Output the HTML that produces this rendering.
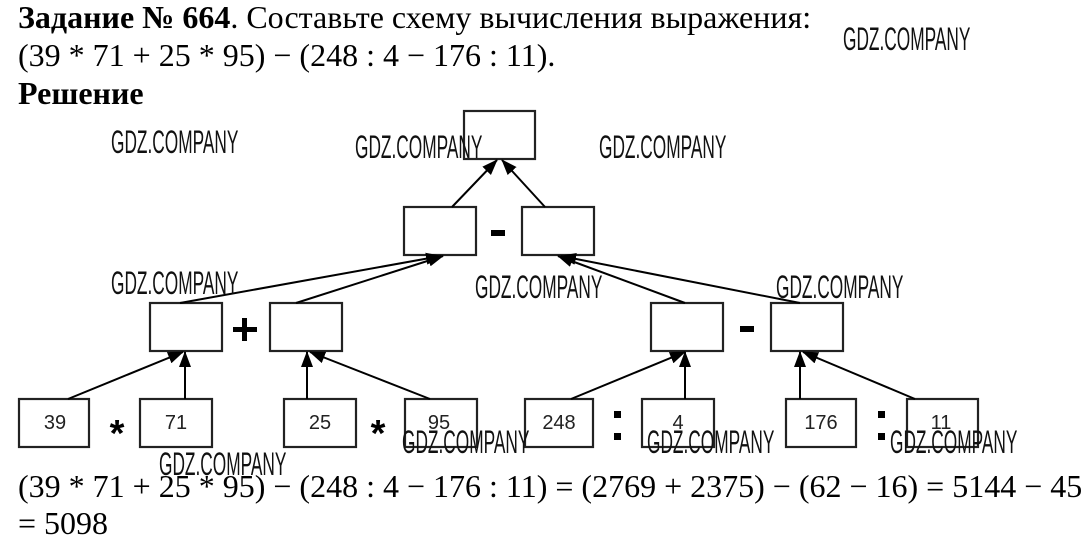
<!DOCTYPE html>
<html><head><meta charset="utf-8"><style>
body{margin:0;width:1090px;height:548px;background:#fff;position:relative;overflow:hidden;font-family:"Liberation Serif",serif;color:#000}
.t{position:absolute;left:18px;font-size:32px;white-space:nowrap;line-height:1}
.w{position:absolute;font-family:"Liberation Sans Narrow","Liberation Sans",sans-serif;font-size:32px;transform-origin:0 0;transform:scaleX(0.54);white-space:nowrap;line-height:1;color:#111}
</style></head><body>
<div class="t" style="top:1px"><b>Задание № 664</b>. Составьте схему вычисления выражения:</div>
<div class="t" style="top:39px">(39 * 71 + 25 * 95) − (248 : 4 − 176 : 11).</div>
<div class="t" style="top:77px"><b>Решение</b></div>
<svg style="position:absolute;left:0;top:0" width="1090" height="548">
<defs><marker id="a" markerWidth="16" markerHeight="12" refX="15" refY="6" orient="auto" markerUnits="userSpaceOnUse"><path d="M0,0 L16,6 L0,12z" fill="#000"/></marker></defs>
<g fill="none" stroke="#222" stroke-width="2.2">
<rect x="464" y="111" width="71" height="48"/>
<rect x="404" y="207" width="72" height="48"/><rect x="522" y="207" width="72" height="48"/>
<rect x="150" y="303" width="72" height="48"/><rect x="270" y="303" width="72" height="48"/>
<rect x="651" y="303" width="72" height="48"/><rect x="771" y="303" width="72" height="48"/>
<rect x="19" y="399" width="70" height="48"/><rect x="140" y="399" width="72" height="48"/>
<rect x="284" y="399" width="72" height="48"/><rect x="405" y="399" width="72" height="48"/>
<rect x="525" y="399" width="68" height="48"/><rect x="642" y="399" width="72" height="48"/>
<rect x="786" y="399" width="70" height="48"/><rect x="907" y="399" width="71" height="48"/>
</g>
<g stroke="#000" stroke-width="2" marker-end="url(#a)">
<line x1="452" y1="207" x2="497" y2="160"/><line x1="545" y1="207" x2="502" y2="160"/>
<line x1="180" y1="303" x2="441" y2="256"/><line x1="296" y1="303" x2="443" y2="256"/>
<line x1="685" y1="303" x2="558" y2="256"/><line x1="800" y1="303" x2="561" y2="256"/>
<line x1="68" y1="399" x2="183" y2="352"/><line x1="185" y1="399" x2="185" y2="352"/>
<line x1="307" y1="399" x2="307" y2="352"/><line x1="430" y1="399" x2="310" y2="352"/>
<line x1="571" y1="399" x2="685" y2="352"/><line x1="685" y1="399" x2="685" y2="352"/>
<line x1="800" y1="399" x2="800" y2="352"/><line x1="915" y1="399" x2="803" y2="352"/>
</g>
<g font-family="Liberation Sans,sans-serif" font-size="20" fill="#222" text-anchor="middle">
<text x="55" y="429">39</text><text x="176" y="429">71</text><text x="320" y="429">25</text><text x="439" y="429">95</text>
<text x="559" y="429">248</text><text x="678" y="429">4</text><text x="821" y="429">176</text><text x="941" y="429">11</text>
</g>
<g fill="#000">
<rect x="491" y="230" width="14" height="6"/>
<rect x="740" y="326" width="14" height="6"/>
<rect x="233" y="327" width="24" height="5"/><rect x="242" y="318" width="5" height="23"/>
<rect x="614" y="411" width="7" height="7"/><rect x="614" y="433" width="7" height="7"/>
<rect x="878" y="411" width="7" height="7"/><rect x="878" y="433" width="7" height="7"/>
</g>
<g font-family="Liberation Sans,sans-serif" font-size="38" font-weight="bold" text-anchor="middle">
<text x="117" y="446">*</text><text x="378" y="446">*</text>
</g>
</svg>
<div class="w" style="left:843px;top:23px">GDZ.COMPANY</div>
<div class="w" style="left:111px;top:126px">GDZ.COMPANY</div>
<div class="w" style="left:355px;top:131px">GDZ.COMPANY</div>
<div class="w" style="left:599px;top:131px">GDZ.COMPANY</div>
<div class="w" style="left:111px;top:267px">GDZ.COMPANY</div>
<div class="w" style="left:475px;top:271px">GDZ.COMPANY</div>
<div class="w" style="left:776px;top:271px">GDZ.COMPANY</div>
<div class="w" style="left:402px;top:426px">GDZ.COMPANY</div>
<div class="w" style="left:647px;top:426px">GDZ.COMPANY</div>
<div class="w" style="left:890px;top:426px">GDZ.COMPANY</div>
<div class="w" style="left:159px;top:448px">GDZ.COMPANY</div>
<div class="t" style="top:470px">(39 * 71 + 25 * 95) − (248 : 4 − 176 : 11) = (2769 + 2375) − (62 − 16) = 5144 − 45</div>
<div class="t" style="top:507px">= 5098</div>
</body></html>
